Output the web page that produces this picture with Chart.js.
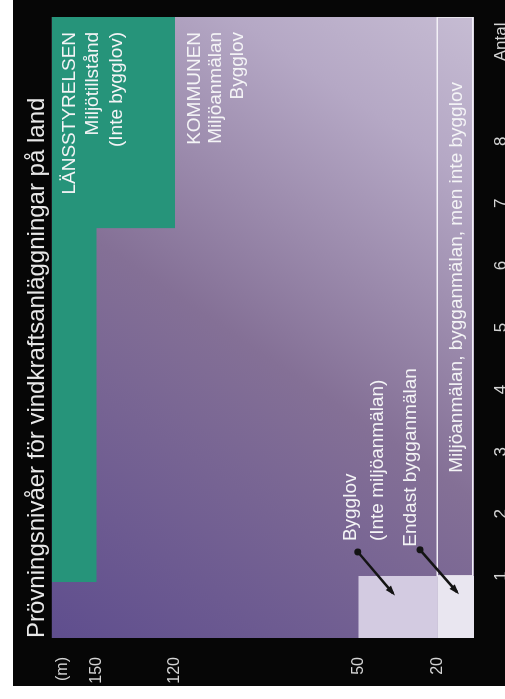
<!DOCTYPE html>
<html lang="sv">
<head>
<meta charset="utf-8">
<title>Prövningsnivåer för vindkraftsanläggningar på land</title>
<script src="https://cdn.jsdelivr.net/npm/chart.js@4.4.0/dist/chart.umd.min.js"></script>
<style>
  html, body { margin: 0; padding: 0; background: #fff; overflow: hidden; }
  /* the picture is turned a quarter turn, so draw it lying down and rotate */
  #wrap {
    position: absolute; left: 0; top: 0;
    width: 699px; height: 505px;
    transform-origin: 0 0;
    transform: translateY(699px) rotate(-90deg);
    background: #fff;
  }
  #chart { position: absolute; left: 13px; top: 13px; background: #060606; }
</style>
</head>
<body>
<div id="wrap"><canvas id="chart" width="686" height="492"></canvas></div>
<script>
// x = antal verk, y = totalhöjd (m)
const countTicks = [1, 2, 3, 4, 5, 6, 7, 8];
const heightTicks = [20, 50, 120, 150];
const countMin = 0, countMax = 10;
const heightMin = 6, heightMax = 167;

// Länsstyrelsen: miljötillstånd över denna höjd
const lanssCount = [0.9, 6.6, 6.6, 10];
const lanssHeight = [150, 150, 120, 120];

// ett verk: bygglov 20-50 m, endast bygganmälan under 20 m
const bygglovCount = [0, 1];
const bygglovHeight = [20, 50];
const bygganmalanCount = [0, 1];
const bygganmalanHeight = [heightMin, 20];

// fler verk under 20 m: miljöanmälan + bygganmälan
const anmalanCount = [1, 10];
const anmalanHeight = [6.5, 20];

// where the axis words sit
const antalAt = 9.6;
const unitAt = 163;

const toPoints = (xs, ys) => xs.map((x, i) => ({ x: x, y: ys[i] }));

function rectFill(xs, ys, color) {
  return {
    data: xs.map(x => ({ x: x, y: ys[1] })),
    fill: { value: ys[0] },
    backgroundColor: color,
    borderWidth: 0,
    pointRadius: 0
  };
}

function rectOutline(xs, ys, color) {
  return {
    data: [
      { x: xs[0], y: ys[0] }, { x: xs[0], y: ys[1] },
      { x: xs[1], y: ys[1] }, { x: xs[1], y: ys[0] }, { x: xs[0], y: ys[0] }
    ],
    fill: false,
    borderColor: color,
    borderWidth: 1.5,
    pointRadius: 0
  };
}

// text in the areas, placed in axis units
const notes = [
  { lines: ['LÄNSSTYRELSEN', 'Miljötillstånd', '(Inte bygglov)'], x: 9.76, y: 158.2, lh: 23.5, align: 'right' },
  { lines: ['KOMMUNEN', 'Miljöanmälan', 'Bygglov'], x: 9.76, y: 110.5, lh: 21.5, align: 'right' },
  { lines: ['Bygglov', '(Inte miljöanmälan)'], x: 1.56, y: 51.0, lh: 27, align: 'left' },
  { lines: ['Endast bygganmälan'], x: 1.47, y: 28.1, lh: 20, align: 'left' },
  { lines: ['Miljöanmälan, bygganmälan, men inte bygglov'], x: 2.66, y: 10.6, lh: 20, align: 'left' }
];
const arrows = [
  { from: [1.385, 50.3], to: [0.72, 36.9] },
  { from: [1.42, 26.6], to: [0.74, 12.5] }
];

const background = {
  id: 'background',
  beforeDraw(chart) {
    const { ctx, chartArea: a } = chart;
    const g = ctx.createLinearGradient(a.left, a.top, a.right, a.bottom);
    g.addColorStop(0, '#5f4e8e');
    g.addColorStop(0.47, '#847096');
    g.addColorStop(0.82, '#b5a8c5');
    g.addColorStop(1, '#c6bcd3');
    ctx.save();
    ctx.fillStyle = g;
    ctx.fillRect(a.left, a.top, a.width, a.height);
    ctx.restore();
  }
};

const labels = {
  id: 'labels',
  afterDatasetsDraw(chart) {
    const ctx = chart.ctx;
    const xs = chart.scales.x, ys = chart.scales.y;
    ctx.save();
    ctx.fillStyle = '#f4f4f6';
    ctx.font = '19px "Liberation Sans", Arial, sans-serif';
    ctx.textBaseline = 'alphabetic';
    notes.forEach(n => {
      ctx.textAlign = n.align;
      const px = xs.getPixelForValue(n.x);
      const py = ys.getPixelForValue(n.y);
      n.lines.forEach((t, i) => ctx.fillText(t, px, py + i * n.lh));
    });

    ctx.strokeStyle = '#141414';
    ctx.fillStyle = '#141414';
    ctx.lineWidth = 2.5;
    arrows.forEach(a => {
      const x1 = xs.getPixelForValue(a.from[0]), y1 = ys.getPixelForValue(a.from[1]);
      const x2 = xs.getPixelForValue(a.to[0]), y2 = ys.getPixelForValue(a.to[1]);
      ctx.beginPath();
      ctx.arc(x1, y1, 3.5, 0, Math.PI * 2);
      ctx.fill();
      ctx.beginPath();
      ctx.moveTo(x1, y1);
      ctx.lineTo(x2, y2);
      ctx.stroke();
      const ang = Math.atan2(y2 - y1, x2 - x1);
      ctx.beginPath();
      ctx.moveTo(x2 + Math.cos(ang) * 3, y2 + Math.sin(ang) * 3);
      ctx.lineTo(x2 - Math.cos(ang - 0.45) * 8, y2 - Math.sin(ang - 0.45) * 8);
      ctx.lineTo(x2 - Math.cos(ang + 0.45) * 8, y2 - Math.sin(ang + 0.45) * 8);
      ctx.closePath();
      ctx.fill();
    });
    ctx.restore();
  }
};

Chart.defaults.font.family = '"Liberation Sans", Arial, sans-serif';

const chart = new Chart(document.getElementById('chart'), {
  type: 'line',
  data: {
    datasets: [
      {
        data: toPoints(lanssCount, lanssHeight),
        fill: 'end',
        backgroundColor: '#26947a',
        borderWidth: 0,
        pointRadius: 0
      },
      rectFill(bygglovCount, bygglovHeight, '#d3cbe1'),
      rectFill(bygganmalanCount, bygganmalanHeight, '#e9e6f0'),
      rectOutline(anmalanCount, anmalanHeight, '#f2f0f6')
    ]
  },
  options: {
    responsive: false,
    animation: false,
    layout: { padding: { left: 0, right: 17, top: 0, bottom: 0 }, autoPadding: false },
    plugins: {
      legend: { display: false },
      tooltip: { enabled: false },
      title: {
        display: true,
        text: 'Prövningsnivåer för vindkraftsanläggningar på land',
        align: 'start',
        fullSize: false,
        color: '#e8e8e8',
        font: { size: 24, weight: 'normal' },
        padding: { top: 10, bottom: 0 }
      }
    },
    scales: {
      x: {
        type: 'linear',
        min: countMin,
        max: countMax,
        grid: { display: false },
        border: { display: false },
        afterBuildTicks: s => { s.ticks = countTicks.concat([antalAt]).map(v => ({ value: v })); },
        afterFit: s => { s.height = 31; },
        ticks: {
          color: '#d4d4d4',
          font: { size: 17 },
          padding: 9,
          maxRotation: 0,
          autoSkip: false,
          callback: v => v === antalAt ? 'Antal' : v
        }
      },
      y: {
        type: 'linear',
        min: heightMin,
        max: heightMax,
        grid: { display: false },
        border: { display: false },
        afterBuildTicks: s => { s.ticks = heightTicks.concat([unitAt]).map(v => ({ value: v })); },
        afterFit: s => { s.width = 48; },
        ticks: {
          color: '#d4d4d4',
          font: { size: 16 },
          padding: 11,
          autoSkip: false,
          callback: v => v === unitAt ? '(m)' : v
        }
      }
    }
  },
  plugins: [background, labels]
});
</script>
</body>
</html>
